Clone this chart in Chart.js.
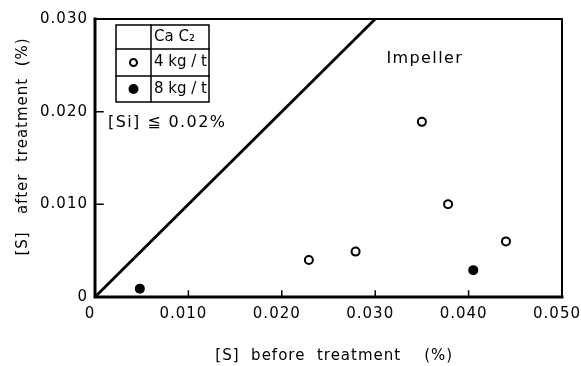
<!DOCTYPE html>
<html>
<head>
<meta charset="utf-8">
<script src="https://cdn.jsdelivr.net/npm/chart.js@4.4.0/dist/chart.umd.min.js"></script>
<style>
  body { margin: 0; background: #fff; }
</style>
</head>
<body>
<canvas id="sChart" width="581" height="366"></canvas>
<script>
// tick values
const xTicks = [0, 0.01, 0.02, 0.03, 0.04, 0.05];
const yTicks = [0, 0.01, 0.02, 0.03];

// CaC2 4 kg/t (open circles)
const open4x = [0.0229, 0.0279, 0.0350, 0.0378, 0.0440];
const open4y = [0.0040, 0.0049, 0.0189, 0.0100, 0.0060];

// CaC2 8 kg/t (filled circles)
const filled8x = [0.0048, 0.0405];
const filled8y = [0.0009, 0.0029];

// [S] after = [S] before
const lineX = [0, 0.030];
const lineY = [0, 0.030];

const legendRows = ['Ca C\u2082', '4 kg / t', '8 kg / t'];

const toPoints = (xs, ys) => xs.map((x, i) => ({ x: x, y: ys[i] }));
const fmtTick = v => (v === 0 ? '0' : v.toFixed(3));

const FONT = '"DejaVu Sans", sans-serif';

// the old plotter lettering is spaced out a bit
const spacing = {
  id: 'spacing',
  beforeDraw(chart) {
    chart.ctx.letterSpacing = '1px';
  }
};

// frame, inward ticks, CaC2 table and notes
const decorations = {
  id: 'decorations',
  afterDraw(chart) {
    const { ctx, chartArea: ca, scales: { x, y } } = chart;
    ctx.save();
    ctx.strokeStyle = '#000';
    ctx.lineCap = 'square';

    // frame
    ctx.lineWidth = 2;
    ctx.beginPath();
    ctx.moveTo(ca.left, ca.top);
    ctx.lineTo(ca.right, ca.top);
    ctx.lineTo(ca.right, ca.bottom);
    ctx.stroke();
    ctx.lineWidth = 3;
    ctx.beginPath();
    ctx.moveTo(ca.left, ca.top);
    ctx.lineTo(ca.left, ca.bottom);
    ctx.lineTo(ca.right, ca.bottom);
    ctx.stroke();

    // inward ticks
    ctx.lineWidth = 1.5;
    ctx.beginPath();
    xTicks.slice(1, -1).forEach(v => {
      const px = x.getPixelForValue(v);
      ctx.moveTo(px, ca.bottom);
      ctx.lineTo(px, ca.bottom - 6);
    });
    yTicks.slice(1, -1).forEach(v => {
      const py = y.getPixelForValue(v);
      ctx.moveTo(ca.left, py);
      ctx.lineTo(ca.left + 8, py);
    });
    ctx.stroke();

    // CaC2 table
    const tl = ca.left + 21, tt = ca.top + 6;
    const c1 = 35, c2 = 58;
    const rows = [24, 27, 26];
    const th = rows.reduce((a, b) => a + b, 0);
    ctx.lineWidth = 1.5;
    ctx.strokeRect(tl, tt, c1 + c2, th);
    ctx.beginPath();
    ctx.moveTo(tl + c1, tt);
    ctx.lineTo(tl + c1, tt + th);
    let ry = tt;
    rows.slice(0, -1).forEach(h => {
      ry += h;
      ctx.moveTo(tl, ry);
      ctx.lineTo(tl + c1 + c2, ry);
    });
    ctx.stroke();

    ctx.fillStyle = '#000';
    ctx.font = '15px ' + FONT;
    ctx.letterSpacing = '0px';
    ctx.textBaseline = 'middle';
    ctx.textAlign = 'left';
    ry = tt;
    legendRows.forEach((label, i) => {
      const cy = ry + rows[i] / 2;
      ctx.fillText(label, tl + c1 + 3, cy);
      if (i === 1) {
        ctx.lineWidth = 2;
        ctx.beginPath();
        ctx.arc(tl + c1 / 2, cy, 3.5, 0, Math.PI * 2);
        ctx.stroke();
      } else if (i === 2) {
        ctx.beginPath();
        ctx.arc(tl + c1 / 2, cy, 5, 0, Math.PI * 2);
        ctx.fill();
      }
      ry += rows[i];
    });

    // notes
    ctx.font = '16px ' + FONT;
    ctx.letterSpacing = '1.4px';
    ctx.fillText('Impeller', x.getPixelForValue(0.0312), y.getPixelForValue(0.0257));
    ctx.fillText('[Si] \u2266 0.02%', x.getPixelForValue(0.0014), y.getPixelForValue(0.0188));
    ctx.restore();
  }
};

new Chart(document.getElementById('sChart'), {
  type: 'scatter',
  data: {
    datasets: [
      {
        type: 'line',
        data: toPoints(lineX, lineY),
        borderColor: '#000',
        borderWidth: 2.8,
        pointRadius: 0,
        showLine: true,
        fill: false
      },
      {
        data: toPoints(open4x, open4y),
        pointRadius: 4,
        pointBorderWidth: 2,
        pointBackgroundColor: '#fff',
        pointBorderColor: '#000'
      },
      {
        data: toPoints(filled8x, filled8y),
        pointRadius: 5,
        pointBorderWidth: 0,
        pointBackgroundColor: '#000',
        pointBorderColor: '#000'
      }
    ]
  },
  plugins: [spacing, decorations],
  options: {
    responsive: false,
    animation: false,
    layout: { padding: { top: 19, right: 0, left: 0, bottom: 0 } },
    plugins: {
      legend: { display: false },
      tooltip: { enabled: false }
    },
    scales: {
      x: {
        type: 'linear',
        min: 0,
        max: 0.05,
        afterBuildTicks: s => { s.ticks = xTicks.map(v => ({ value: v })); },
        afterFit: s => {
          s.height = 69;
          s.paddingLeft = 0;
          s.paddingRight = 19;
        },
        grid: { display: false, drawTicks: false },
        border: { display: false },
        ticks: {
          color: '#000',
          padding: 8,
          labelOffset: -5,
          font: { family: FONT, size: 15 },
          callback: fmtTick
        },
        title: {
          display: true,
          text: '  [S]  before  treatment    (%)',
          color: '#000',
          font: { family: FONT, size: 15 },
          padding: { bottom: 1 }
        }
      },
      y: {
        type: 'linear',
        min: 0,
        max: 0.03,
        afterBuildTicks: s => { s.ticks = yTicks.map(v => ({ value: v })); },
        afterFit: s => { s.width = 95; },
        grid: { display: false, drawTicks: false },
        border: { display: false },
        ticks: {
          color: '#000',
          padding: 7,
          font: { family: FONT, size: 15 },
          callback: fmtTick
        },
        title: {
          display: true,
          text: '    [S]   after  treatment  (%)',
          color: '#000',
          font: { family: FONT, size: 15 },
          padding: { top: 14 }
        }
      }
    }
  }
});
</script>
</body>
</html>
